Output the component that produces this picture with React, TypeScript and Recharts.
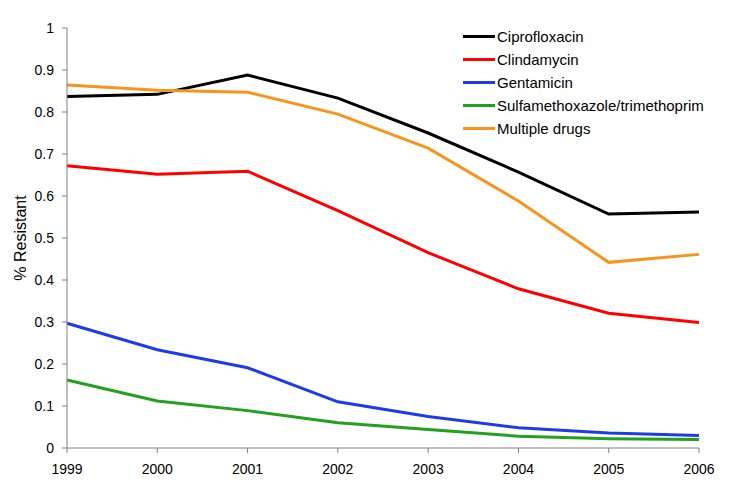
import { LineChart, Line, XAxis, YAxis } from "recharts";

const years = ["1999", "2000", "2001", "2002", "2003", "2004", "2005", "2006"];
const ciprofloxacin = [0.837, 0.842, 0.888, 0.833, 0.75, 0.657, 0.557, 0.562];
const clindamycin = [0.672, 0.652, 0.659, 0.565, 0.465, 0.379, 0.321, 0.299];
const gentamicin = [0.297, 0.234, 0.191, 0.11, 0.075, 0.048, 0.036, 0.03];
const sulfaTmp = [0.162, 0.112, 0.089, 0.06, 0.044, 0.028, 0.022, 0.02];
const multipleDrugs = [0.864, 0.852, 0.847, 0.795, 0.714, 0.588, 0.442, 0.461];
const yTicks = [0, 0.1, 0.2, 0.3, 0.4, 0.5, 0.6, 0.7, 0.8, 0.9, 1];

const series = [
  { key: "cipro", name: "Ciprofloxacin", color: "#000000", values: ciprofloxacin },
  { key: "clinda", name: "Clindamycin", color: "#ff0000", values: clindamycin },
  { key: "genta", name: "Gentamicin", color: "#1f3be6", values: gentamicin },
  { key: "sxt", name: "Sulfamethoxazole/trimethoprim", color: "#22a01e", values: sulfaTmp },
  { key: "multi", name: "Multiple drugs", color: "#f7941d", values: multipleDrugs },
];

const data = years.map((year, i) => {
  const row: Record<string, string | number> = { year };
  series.forEach((s) => (row[s.key] = s.values[i]));
  return row;
});

const font = "Arial, 'Liberation Sans', sans-serif";

function LegendBox() {
  return (
    <div
      style={{
        position: "absolute",
        left: 463,
        top: 25,
        fontFamily: font,
        fontSize: 15,
        color: "#000",
        whiteSpace: "nowrap",
      }}
    >
      {series.map((s) => (
        <div key={s.key} style={{ display: "flex", alignItems: "center", height: 23 }}>
          <div style={{ width: 32, height: 3, background: s.color, marginRight: 2 }} />
          <span>{s.name}</span>
        </div>
      ))}
    </div>
  );
}

export default function App() {
  return (
    <div style={{ position: "absolute", left: 0, top: 0, width: 737, height: 487, background: "#fff" }}>
      <LineChart
        width={737}
        height={487}
        data={data}
        margin={{ top: 28, right: 38, bottom: 9, left: 0 }}
      >
        <XAxis
          dataKey="year"
          height={30}
          stroke="#808080"
          tickSize={5}
          tickMargin={11}
          tick={{ fill: "#000", fontSize: 14, fontFamily: font }}
          interval={0}
        />
        <YAxis
          width={67}
          domain={[0, 1]}
          ticks={yTicks}
          stroke="#808080"
          tickSize={5}
          tickMargin={8}
          tick={{ fill: "#000", fontSize: 14, fontFamily: font }}
          label={{
            value: "% Resistant",
            angle: -90,
            position: "center",
            dx: -13,
            style: { fill: "#000", fontSize: 16, fontFamily: font },
          }}
        />
        {series.map((s) => (
          <Line
            key={s.key}
            dataKey={s.key}
            name={s.name}
            stroke={s.color}
            strokeWidth={3}
            dot={false}
            type="linear"
            isAnimationActive={false}
          />
        ))}
      </LineChart>
      <LegendBox />
    </div>
  );
}
